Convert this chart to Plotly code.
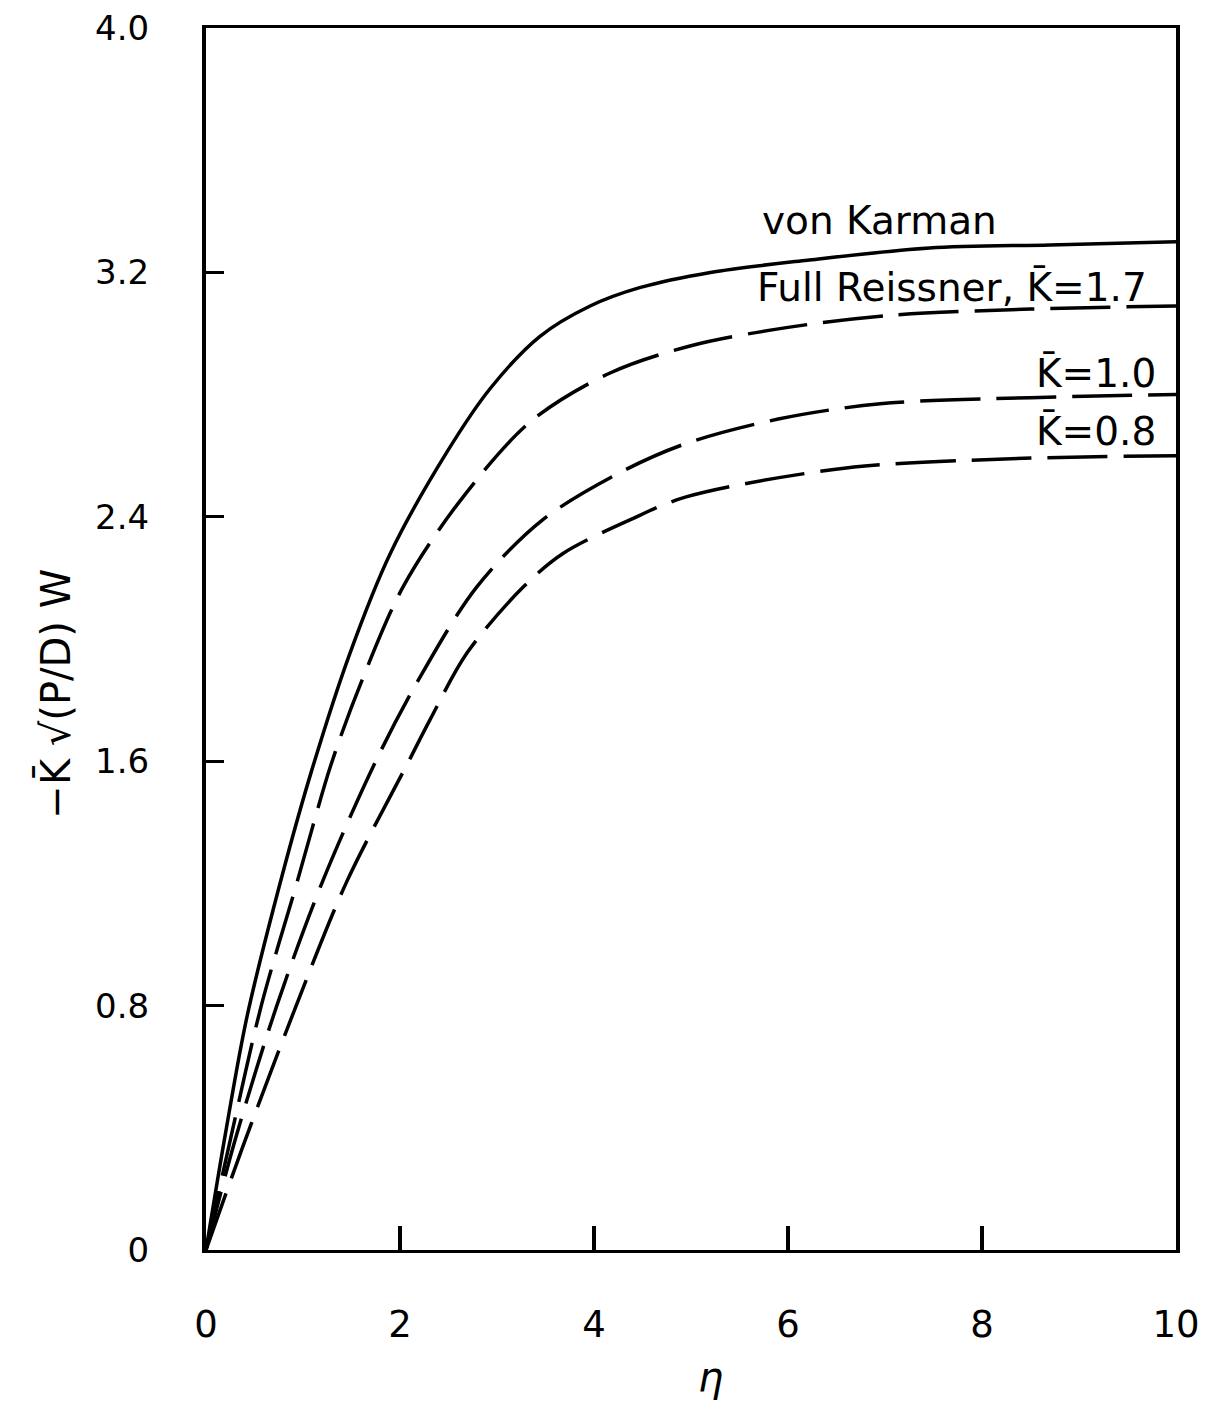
import plotly.graph_objects as go

# von Karman (solid)
eta_vk = [0, 0.2, 0.42, 0.78, 1.09, 1.48, 1.90, 2.48, 2.93, 3.44, 3.96, 4.47, 5.2, 6.2, 7.46, 8.7, 10]
w_vk = [0, 0.38, 0.76, 1.22, 1.57, 1.95, 2.28, 2.61, 2.82, 2.99, 3.09, 3.15, 3.20, 3.24, 3.28, 3.29, 3.30]

# Full Reissner K=1.7
eta_k17 = [0, 0.25, 0.57, 0.94, 1.29, 1.61, 2.03, 2.59, 3.34, 4.16, 5.0, 6.0, 7.08, 8.5, 10]
w_k17 = [0, 0.36, 0.80, 1.205, 1.59, 1.866, 2.17, 2.44, 2.71, 2.87, 2.96, 3.02, 3.06, 3.08, 3.09]

# K=1.0
eta_k10 = [0, 0.3, 0.73, 1.2, 1.75, 2.19, 2.79, 3.47, 4.30, 4.95, 5.9, 6.95, 8.5, 10]
w_k10 = [0, 0.36, 0.80, 1.205, 1.60, 1.866, 2.17, 2.39, 2.55, 2.64, 2.72, 2.77, 2.79, 2.80]

# K=0.8
eta_k08 = [0, 0.37, 0.93, 1.45, 2.09, 2.31, 2.69, 3.27, 3.68, 4.37, 4.95, 6.6, 8.3, 10]
w_k08 = [0, 0.33, 0.80, 1.205, 1.60, 1.736, 1.954, 2.17, 2.28, 2.39, 2.465, 2.56, 2.59, 2.60]

x_ticks = [0, 2, 4, 6, 8, 10]
y_ticks = [0, 0.8, 1.6, 2.4, 3.2, 4.0]
y_tick_text = ["0", "0.8", "1.6", "2.4", "3.2", "4.0"]

FONT = "DejaVu Sans"
fig = go.Figure()
series = [
    (eta_vk, w_vk, "solid"),
    (eta_k17, w_k17, "60px,16px"),
    (eta_k10, w_k10, "60px,16px"),
    (eta_k08, w_k08, "60px,16px"),
]
for xs, ys, dash in series:
    fig.add_trace(go.Scatter(x=xs, y=ys, mode="lines",
                             line=dict(color="black", width=3.5, dash=dash, shape="spline", smoothing=0.9),
                             showlegend=False, hoverinfo="skip"))

ann_font = dict(family=FONT, size=39, color="black")
fig.add_annotation(x=5.71, y=3.37, text="von Karman", showarrow=False, xanchor="left", yanchor="middle", font=ann_font)
fig.add_annotation(x=5.66, y=3.15, text="Full Reissner, K\u0304=1.7", showarrow=False, xanchor="left", yanchor="middle", font=ann_font)
fig.add_annotation(x=9.81, y=2.87, text="K\u0304=1.0", showarrow=False, xanchor="right", yanchor="middle", font=ann_font)
fig.add_annotation(x=9.81, y=2.68, text="K\u0304=0.8", showarrow=False, xanchor="right", yanchor="middle", font=ann_font)

fig.add_annotation(xref="paper", yref="paper", x=0.52, y=-0.104, text="<i>η</i>", showarrow=False,
                   xanchor="center", yanchor="middle", font=dict(family=FONT, size=40, color="black"))
fig.add_annotation(xref="paper", yref="paper", x=-0.155, y=0.455, text="−K\u0304 √(P/D) W", showarrow=False,
                   textangle=-90, xanchor="center", yanchor="middle", font=dict(family=FONT, size=40, color="black"))

fig.update_xaxes(range=[0, 10], tickvals=x_ticks, ticktext=[str(v) for v in x_ticks],
                 ticks="inside", ticklen=24, tickwidth=4, tickcolor="black",
                 showline=True, linewidth=3, linecolor="black", mirror=True,
                 showgrid=False, zeroline=False, ticklabelstandoff=40, automargin=False,
                 ticklabeloverflow="allow",
                 tickfont=dict(family=FONT, size=37, color="black"))
fig.update_yaxes(range=[0, 4], tickvals=y_ticks, ticktext=y_tick_text,
                 ticks="inside", ticklen=18, tickwidth=3, tickcolor="black",
                 showline=True, linewidth=4, linecolor="black", mirror=True,
                 showgrid=False, zeroline=False, ticklabelstandoff=46, automargin=False,
                 ticklabeloverflow="allow",
                 tickfont=dict(family=FONT, size=34, color="black"))

fig.update_layout(width=1195, height=1392, plot_bgcolor="white", paper_bgcolor="white",
                  margin=dict(l=198, r=27, t=20, b=150, autoexpand=False))
fig.write_html("out.html")
